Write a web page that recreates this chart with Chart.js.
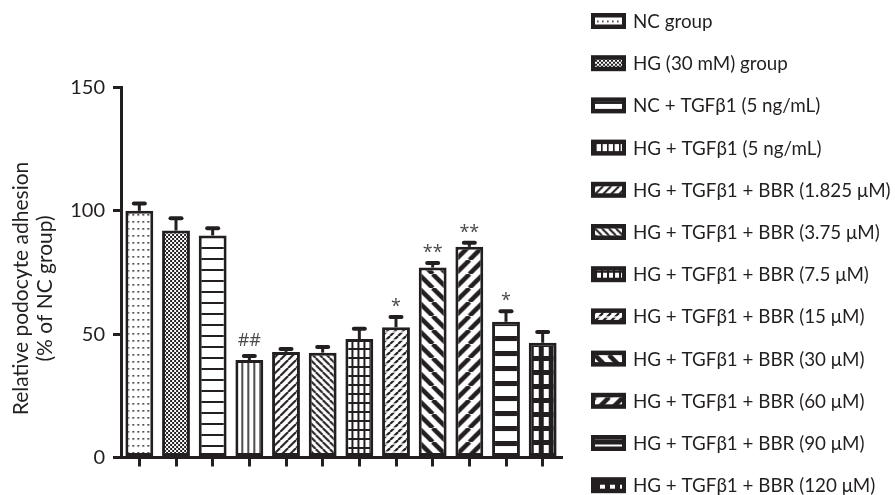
<!DOCTYPE html>
<html>
<head>
<meta charset="utf-8">
<script src="https://cdn.jsdelivr.net/npm/chart.js@4.4.1/dist/chart.umd.min.js"></script>
<style>
  html, body { margin: 0; padding: 0; background: #fff; }
  #wrap { width: 895px; height: 495px; }
</style>
</head>
<body>
<div id="wrap"><canvas id="chart" width="895" height="495"></canvas></div>
<script>
// groups, in the order of the bars and of the legend
const groups = [
  'NC group',
  'HG (30 mM) group',
  'NC + TGFβ1 (5 ng/mL)',
  'HG + TGFβ1 (5 ng/mL)',
  'HG + TGFβ1 + BBR (1.825 μM)',
  'HG + TGFβ1 + BBR (3.75 μM)',
  'HG + TGFβ1 + BBR (7.5 μM)',
  'HG + TGFβ1 + BBR (15 μM)',
  'HG + TGFβ1 + BBR (30 μM)',
  'HG + TGFβ1 + BBR (60 μM)',
  'HG + TGFβ1 + BBR (90 μM)',
  'HG + TGFβ1 + BBR (120 μM)'
];
// relative adhesion (% of NC group) and the upper error bar
const adhesion = [100, 92, 90, 39.5, 42.8, 42.5, 48, 52.8, 77, 85.4, 55, 46.5];
const sem      = [3.8, 5.8, 3.7, 2.5, 2.0, 3.1, 5.0, 5.0, 2.7, 2.5, 5.1, 5.2];
const marks    = ['', '', '', '##', '', '', '', '*', '**', '**', '*', ''];
const yTicks   = [0, 50, 100, 150];
const yTitle   = ['Relative podocyte adhesion', '(% of NC group)'];

const INK = '#231f20';
const FONT = 'Lato, "Open Sans", sans-serif';
const canvas = document.getElementById('chart');
const mainCtx = canvas.getContext('2d');

// small tiles -> CanvasPattern, black marks on white
function makeTile(w, h, draw) {
  const t = document.createElement('canvas');
  t.width = w; t.height = h;
  const g = t.getContext('2d');
  g.fillStyle = '#fff';
  g.fillRect(0, 0, w, h);
  g.fillStyle = INK;
  g.strokeStyle = INK;
  draw(g, w, h);
  return mainCtx.createPattern(t, 'repeat');
}
// diagonal stripes, dir 1 = "/", dir -1 = "\"
function diag(g, s, lw, dir) {
  g.lineWidth = lw;
  for (let k = -1; k <= 1; k++) {
    g.beginPath();
    if (dir > 0) { g.moveTo(k * s, s); g.lineTo(k * s + s, 0); }
    else { g.moveTo(k * s, 0); g.lineTo(k * s + s, s); }
    g.stroke();
  }
}

const patterns = [
  makeTile(5, 7, g => g.fillRect(2, 3, 1.6, 1.6)),                       // dots
  makeTile(4, 4, g => { g.fillRect(0, 0, 2, 2); g.fillRect(2, 2, 2, 2); }), // checker
  makeTile(4, 11, g => g.fillRect(0, 0, 4, 2)),                          // horizontal
  makeTile(6, 4, g => g.fillRect(0, 0, 1.6, 4)),                         // vertical
  makeTile(8, 8, g => diag(g, 8, 2, 1)),                                 // thin /
  makeTile(7, 7, g => diag(g, 7, 2, -1)),                                // thin \
  makeTile(6, 9, g => { g.fillRect(0, 0, 2, 9); g.fillRect(0, 0, 6, 2); }), // grid
  makeTile(8, 8, g => { diag(g, 8, 2.2, 1); g.fillStyle = '#fff'; g.fillRect(0, 3.4, 8, 1.3); }), // broken /
  makeTile(14, 14, g => diag(g, 14, 4.5, -1)),                           // thick \
  makeTile(14, 14, g => diag(g, 14, 4.5, 1)),                            // thick /
  makeTile(4, 15, g => g.fillRect(0, 0, 4, 5)),                          // thick horizontal
  makeTile(10, 14, g => { g.fillRect(0, 0, 10, 14); g.fillStyle = '#fff'; g.fillRect(5, 3, 5, 9); }) // blocks
];

// anchor each bar's pattern to the bar itself
const anchorPatterns = {
  id: 'anchorPatterns',
  beforeDatasetsDraw(chart) {
    chart.getDatasetMeta(0).data.forEach((bar, i) => {
      patterns[i].setTransform(new DOMMatrix().translate(bar.x - bar.width / 2, bar.base));
    });
  }
};

// upper error bars + significance marks
const errorBars = {
  id: 'errorBars',
  afterDatasetsDraw(chart) {
    const { ctx, scales: { y } } = chart;
    ctx.save();
    ctx.strokeStyle = INK;
    ctx.fillStyle = INK;
    chart.getDatasetMeta(0).data.forEach((bar, i) => {
      const top = y.getPixelForValue(adhesion[i] + sem[i]);
      ctx.lineWidth = 3;
      ctx.beginPath();
      ctx.moveTo(bar.x, bar.y);
      ctx.lineTo(bar.x, top + 2);
      ctx.stroke();
      ctx.beginPath();
      ctx.roundRect(bar.x - 7.5, top, 15, 4, 2);
      ctx.fill();
      if (marks[i]) {
        ctx.save();
        ctx.font = '18px "Open Sans", sans-serif';
        ctx.fillStyle = '#4a4a4a';
        ctx.textAlign = 'center';
        ctx.textBaseline = 'alphabetic';
        const m = ctx.measureText(marks[i]);
        ctx.fillText(marks[i], bar.x, top - 8 - m.actualBoundingBoxDescent);
        ctx.restore();
      }
    });
    ctx.restore();
  }
};

// two-line rotated y title
const yTitlePlugin = {
  id: 'yTitlePlugin',
  afterDraw(chart) {
    const { ctx, chartArea } = chart;
    const cy = (chartArea.top + chartArea.bottom) / 2 + 16;
    ctx.save();
    ctx.font = '21px ' + FONT;
    ctx.fillStyle = INK;
    ctx.textAlign = 'center';
    ctx.textBaseline = 'middle';
    yTitle.forEach((line, k) => {
      ctx.save();
      ctx.translate(21 + k * 24, cy);
      ctx.rotate(-Math.PI / 2);
      ctx.fillText(line, 0, 0);
      ctx.restore();
    });
    ctx.restore();
  }
};

// legend column on the right
const sideLegend = {
  id: 'sideLegend',
  afterDraw(chart) {
    const { ctx, chartArea } = chart;
    const x0 = chartArea.right + 30;
    ctx.save();
    ctx.font = '18.8px ' + FONT;
    ctx.textBaseline = 'middle';
    groups.forEach((name, i) => {
      const cy = 21 + i * 42.2;
      ctx.fillStyle = INK;
      ctx.fillRect(x0, cy - 8, 35, 16);
      const p = patterns[i];
      p.setTransform(new DOMMatrix().translate(x0 + 4, cy - 3.5));
      ctx.fillStyle = p;
      ctx.fillRect(x0 + 4, cy - 3.5, 27, 7);
      ctx.fillStyle = INK;
      ctx.fillText(name, x0 + 42, cy + 1);
    });
    ctx.restore();
  }
};

new Chart(mainCtx, {
  type: 'bar',
  data: {
    labels: groups,
    datasets: [{
      data: adhesion,
      backgroundColor: patterns,
      borderColor: INK,
      borderWidth: 3,
      borderSkipped: false,
      categoryPercentage: 1,
      barPercentage: 0.76
    }]
  },
  options: {
    responsive: false,
    animation: false,
    events: [],
    layout: { padding: { top: 87.5, right: 334, bottom: 0, left: 0 } },
    plugins: { legend: { display: false }, tooltip: { enabled: false } },
    scales: {
      x: {
        ticks: { display: false },
        grid: { display: true, drawOnChartArea: false, offset: false, tickLength: 9, lineWidth: 3, color: INK },
        border: { display: true, width: 3, color: INK },
        afterFit(s) { s.height = 37.5; }
      },
      y: {
        min: 0,
        max: 150,
        afterBuildTicks(s) { s.ticks = yTicks.map(v => ({ value: v })); },
        ticks: { font: { family: FONT, size: 20 }, color: INK, padding: 8 },
        grid: { drawOnChartArea: false, tickLength: 8, lineWidth: 3, color: INK },
        border: { display: true, width: 3, color: INK },
        afterFit(s) { s.width = 121; }
      }
    }
  },
  plugins: [anchorPatterns, errorBars, yTitlePlugin, sideLegend]
});
</script>
</body>
</html>
